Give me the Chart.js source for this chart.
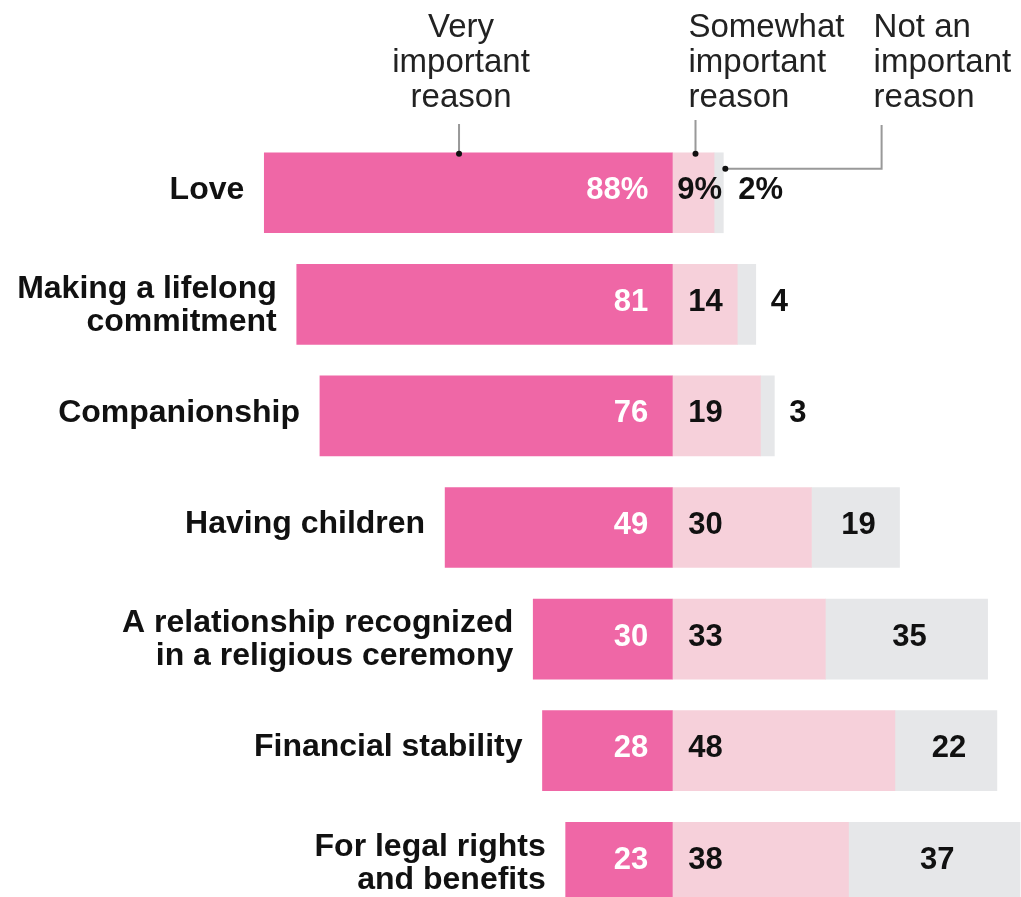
<!DOCTYPE html>
<html>
<head>
<meta charset="utf-8">
<script src="https://cdn.jsdelivr.net/npm/chart.js@4"></script>
<style>
html,body{margin:0;padding:0;background:#fff;overflow:hidden;}
canvas{display:block;}
</style>
</head>
<body>
<canvas id="c" width="1021" height="918"></canvas>
<script>
const categories = [
  ["Love"],
  ["Making a lifelong", "commitment"],
  ["Companionship"],
  ["Having children"],
  ["A relationship recognized", "in a religious ceremony"],
  ["Financial stability"],
  ["For legal rights", "and benefits"]
];
const veryImportant = [88, 81, 76, 49, 30, 28, 23];
const somewhatImportant = [9, 14, 19, 30, 33, 48, 38];
const notImportant = [2, 4, 3, 19, 35, 22, 37];
const seriesNames = ["Very important reason", "Somewhat important reason", "Not an important reason"];
const headerLines = [["Very", "important", "reason"], ["Somewhat", "important", "reason"], ["Not an", "important", "reason"]];

const COLORS = ["#EF67A6", "#F6D0DA", "#E6E7E9"];
const LABEL_FONT = "bold 32px 'Liberation Sans', Arial, sans-serif";
const VALUE_FONT = "bold 31px 'Liberation Sans', Arial, sans-serif";
const HEAD_FONT = "33px 'Liberation Sans', Arial, sans-serif";

function fmt(v, i) { return i === 0 ? v + "%" : String(v); }

const drawPlugin = {
  id: "drawPlugin",
  afterDatasetsDraw(chart) {
    const ctx = chart.ctx;
    const xs = chart.scales.x;
    const m0 = chart.getDatasetMeta(0).data;
    const m1 = chart.getDatasetMeta(1).data;
    const m2 = chart.getDatasetMeta(2).data;
    ctx.save();
    // category labels
    ctx.font = LABEL_FONT;
    ctx.fillStyle = "#111";
    ctx.textAlign = "right";
    ctx.textBaseline = "middle";
    categories.forEach((lines, i) => {
      const el = m0[i];
      const left = Math.min(el.x, el.base);
      const lh = 33;
      const y0 = lines.length === 1 ? el.y - 3 : el.y + 1 - (lines.length - 1) * lh / 2;
      lines.forEach((t, k) => ctx.fillText(t, left - 20, y0 + k * lh));
    });
    // values
    ctx.font = VALUE_FONT;
    categories.forEach((_, i) => {
      const y = el => el.y - 2;
      let e = m0[i];
      ctx.fillStyle = "#fff";
      ctx.textAlign = "right";
      ctx.fillText(fmt(veryImportant[i], i), Math.max(e.x, e.base) - 24, y(e));
      e = m1[i];
      ctx.fillStyle = "#111";
      ctx.textAlign = "left";
      const sx = Math.min(e.x, e.base) + (somewhatImportant[i] < 10 ? 5 : 16);
      ctx.fillText(fmt(somewhatImportant[i], i), sx, y(e));
      e = m2[i];
      if (notImportant[i] < 10) {
        ctx.textAlign = "left";
        ctx.fillText(fmt(notImportant[i], i), Math.max(e.x, e.base) + 15, y(e));
      } else {
        ctx.textAlign = "center";
        const cx = (e.x + e.base) / 2 + 3;
        ctx.fillText(fmt(notImportant[i], i), Math.min(cx, chart.width - 72), y(e));
      }
    });
    // header annotations
    ctx.font = HEAD_FONT;
    ctx.fillStyle = "#222";
    ctx.textBaseline = "alphabetic";
    const base = [37, 72, 107];
    const e0 = m0[0], e2 = m2[0];
    const barTop = e0.y - e0.height / 2;
    const vx = xs.getPixelForValue(-46);
    ctx.textAlign = "center";
    headerLines[0].forEach((t, k) => ctx.fillText(t, vx + 2, base[k]));
    const sxh = xs.getPixelForValue(5);
    ctx.textAlign = "left";
    headerLines[1].forEach((t, k) => ctx.fillText(t, sxh - 7, base[k]));
    const nx = xs.getPixelForValue(46);
    headerLines[2].forEach((t, k) => ctx.fillText(t, nx - 12, base[k]));
    // leader lines
    ctx.strokeStyle = "#999";
    ctx.lineWidth = 2;
    ctx.beginPath();
    ctx.moveTo(vx, 124); ctx.lineTo(vx, barTop + 1);
    ctx.moveTo(sxh, 120); ctx.lineTo(sxh, barTop + 1);
    const nEnd = Math.max(e2.x, e2.base) + 2;
    ctx.moveTo(nx - 4, 125); ctx.lineTo(nx - 4, barTop + 16); ctx.lineTo(nEnd, barTop + 16);
    ctx.stroke();
    ctx.fillStyle = "#111";
    [[vx, barTop + 1], [sxh, barTop + 1], [nEnd, barTop + 16]].forEach(p => {
      ctx.beginPath(); ctx.arc(p[0], p[1], 3, 0, Math.PI * 2); ctx.fill();
    });
    ctx.restore();
  }
};

new Chart(document.getElementById("c"), {
  type: "bar",
  data: {
    labels: categories,
    datasets: [
      { label: seriesNames[0], data: veryImportant.map(v => -v), backgroundColor: COLORS[0] },
      { label: seriesNames[1], data: somewhatImportant, backgroundColor: COLORS[1] },
      { label: seriesNames[2], data: notImportant, backgroundColor: COLORS[2] }
    ]
  },
  options: {
    indexAxis: "y",
    responsive: false,
    animation: false,
    layout: { padding: { top: 137, left: 0, right: 0, bottom: 0 } },
    datasets: { bar: { barThickness: 80, borderWidth: 0 } },
    scales: {
      x: { stacked: true, display: false, min: -145, max: 75.2 },
      y: { stacked: true, display: false }
    },
    plugins: { legend: { display: false }, tooltip: { enabled: false } }
  },
  plugins: [drawPlugin]
});
</script>
</body>
</html>
